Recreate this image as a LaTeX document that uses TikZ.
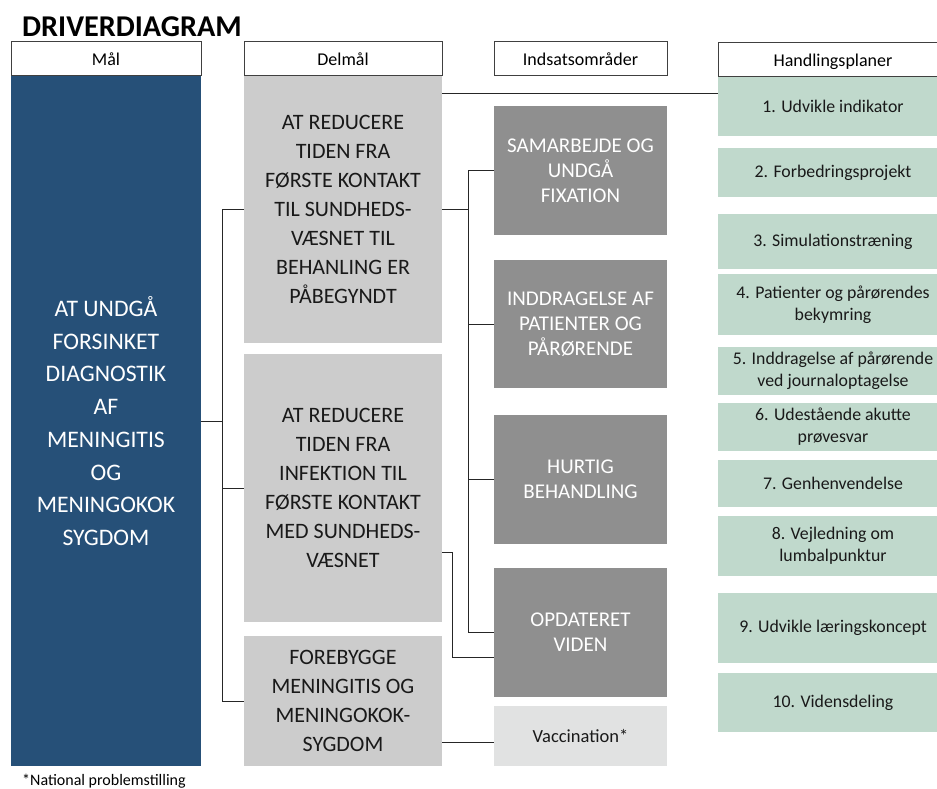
\documentclass[tikz,border=0pt]{standalone}
\usepackage{fontspec}
\setmainfont{Carlito}
\usetikzlibrary{calc}

\definecolor{goalblue}{RGB}{38,80,120}
\definecolor{subgray}{RGB}{204,204,204}
\definecolor{areagray}{RGB}{143,143,143}
\definecolor{vaccgray}{RGB}{225,226,226}
\definecolor{plangreen}{RGB}{192,217,204}

\tikzset{
  box/.style={inner sep=0pt, outer sep=0pt, align=center},
  header/.style={box, draw=black!75, line width=0.8pt, fill=white,
    minimum height=34pt, text height=16pt, text depth=0pt,
    font=\fontsize{18}{20}\selectfont},
  goal/.style={box, fill=goalblue, text=white, minimum width=190pt,
    font=\fontsize{23.7}{32.7}\selectfont},
  subgoal/.style={box, fill=subgray, text=black!90, minimum width=198pt,
    font=\fontsize{22}{29}\selectfont},
  area/.style={box, fill=areagray, text=white, minimum width=173pt,
    font=\fontsize{21}{25}\selectfont},
  vacc/.style={box, fill=vaccgray, text=black!90, minimum width=173pt,
    font=\fontsize{18.5}{20}\selectfont},
  plan/.style={box, fill=plangreen, text=black!90, minimum width=230pt,
    font=\fontsize{17.8}{22}\selectfont},
  link/.style={draw=black!85, line width=0.9pt}
}

\begin{document}
\begin{tikzpicture}[x=1pt, y=-1pt]
\useasboundingbox (0,0) rectangle (937,789);
\clip (0,0) rectangle (937,789);
\fill[white] (0,0) rectangle (937,789);

% title and footnote
\node[anchor=base west, inner sep=0pt, font=\fontsize{30.2}{32}\selectfont\bfseries] (title) at (22,37) {DRIVERDIAGRAM};
\node[anchor=base west, inner sep=0pt, font=\fontsize{16}{18}\selectfont] (note) at (22,785) {*National problemstilling};

% column headers
\node[header, minimum width=190pt] (hM) at (106,58) {Mål};
\node[header, minimum width=198pt] (hD) at (343,58) {Delmål};
\node[header, minimum width=173pt] (hI) at (580.5,58) {Indsatsområder};
\node[header, minimum width=230pt] (hH) at (833,59) {Handlingsplaner};

% goal
\node[goal, minimum height=690pt] (M) at (106,421)
  {AT UNDGÅ\\FORSINKET\\DIAGNOSTIK\\AF\\MENINGITIS\\OG\\MENINGOKOK\\SYGDOM};

% sub-goals
\node[subgoal, minimum height=267pt] (D1) at (343,209.5)
  {AT REDUCERE\\TIDEN FRA\\FØRSTE KONTAKT\\TIL SUNDHEDS-\\VÆSNET TIL\\BEHANLING ER\\PÅBEGYNDT};
\node[subgoal, minimum height=268pt] (D2) at (343,488)
  {AT REDUCERE\\TIDEN FRA\\INFEKTION TIL\\FØRSTE KONTAKT\\MED SUNDHEDS-\\VÆSNET};
\node[subgoal, minimum height=130pt] (D3) at (343,701)
  {FOREBYGGE\\MENINGITIS OG\\MENINGOKOK-\\SYGDOM};

% focus areas
\node[area, minimum height=129pt] (I1) at (580.5,170.5) {SAMARBEJDE OG\\UNDGÅ\\FIXATION};
\node[area, minimum height=128pt] (I2) at (580.5,324) {INDDRAGELSE AF\\PATIENTER OG\\PÅRØRENDE};
\node[area, minimum height=129pt] (I3) at (580.5,479.5) {HURTIG\\BEHANDLING};
\node[area, minimum height=129pt] (I4) at (580.5,632.5) {OPDATERET\\VIDEN};
\node[vacc, minimum height=60pt] (V) at (580.5,736) {Vaccination*};

% action plans
\node[plan, minimum height=59pt] (H1) at (833,106.5) {1. Udvikle indikator};
\node[plan, minimum height=49pt] (H2) at (833,172.5) {2. Forbedringsprojekt};
\node[plan, minimum height=55pt] (H3) at (833,241.5) {3. Simulationstræning};
\node[plan, minimum height=61pt] (H4) at (833,304.5) {4. Patienter og pårørendes\\bekymring};
\node[plan, minimum height=48pt] (H5) at (833,371) {5. Inddragelse af pårørende\\ved journaloptagelse};
\node[plan, minimum height=48pt] (H6) at (833,427) {6. Udestående akutte\\prøvesvar};
\node[plan, minimum height=47pt] (H7) at (833,483.5) {7. Genhenvendelse};
\node[plan, minimum height=60pt] (H8) at (833,546) {8. Vejledning om\\lumbalpunktur};
\node[plan, minimum height=70pt] (H9) at (833,628) {9. Udvikle læringskoncept};
\node[plan, minimum height=59pt] (H10) at (833,702.5) {10. Vidensdeling};

% goal to sub-goals
\coordinate (busL) at (222,0);
\draw[link] (M.east) -- (busL |- M.east);
\draw[link] (D1.west) -- (busL |- D1.west) -- (busL |- D3.west) -- (D3.west);
\draw[link] (busL |- D2.west) -- (D2.west);

% first sub-goal to focus areas and action plans
\coordinate (busR) at (468,0);
\draw[link] (D1.east) -- (busR |- D1.east);
\draw[link] (I1.west) -- (busR |- I1.west) -- (busR |- I4.west) -- (I4.west);
\draw[link] (busR |- I2.west) -- (I2.west);
\draw[link] (busR |- I3.west) -- (I3.west);
\coordinate (topLink) at ($(D1.north east)+(0,17)$);
\draw[link] (topLink) -- (H1.west |- topLink);

% second sub-goal to updated knowledge
\coordinate (d2out) at ($(D2.east)+(0,64)$);
\coordinate (i4in) at ($(I4.west)+(0,24.5)$);
\draw[link] (d2out) -- ++(10,0) |- (i4in);

% third sub-goal to vaccination
\coordinate (vin) at ($(V.west)+(0,6)$);
\draw[link] (D3.east |- vin) -- (vin);
\end{tikzpicture}
\end{document}
